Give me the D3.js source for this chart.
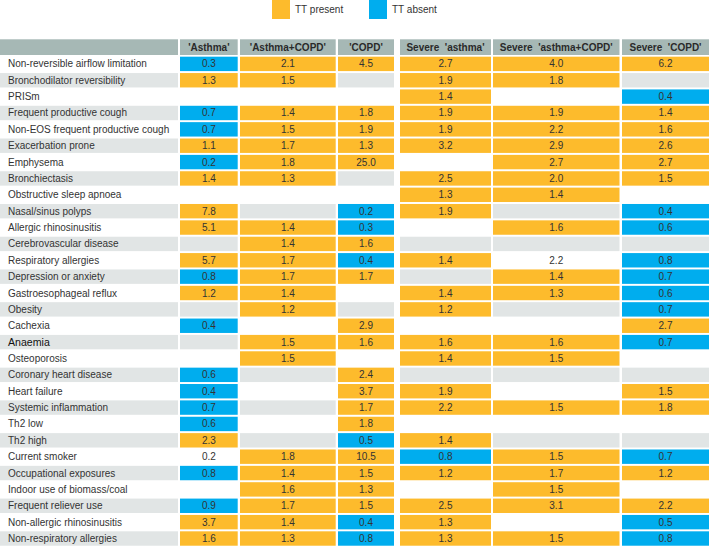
<!DOCTYPE html>
<html>
<head>
<meta charset="utf-8">
<script src="https://cdn.jsdelivr.net/npm/d3@7"></script>
<style>
  html, body { margin: 0; padding: 0; background: #fff; }
  svg { display: block; }
  text { font-family: "Liberation Sans", Arial, Helvetica, sans-serif; }
</style>
</head>
<body>
<svg id="chart" width="709" height="550"></svg>
<script>
// ---------- DATA ----------
const columns = ["'Asthma'", "'Asthma+COPD'", "'COPD'", "Severe  'asthma'", "Severe  'asthma+COPD'", "Severe  'COPD'"];
const legendLabels = ["TT present", "TT absent"];
const rowLabels = [
  "Non-reversible airflow limitation", "Bronchodilator reversibility", "PRISm",
  "Frequent productive cough", "Non-EOS frequent productive cough", "Exacerbation prone",
  "Emphysema", "Bronchiectasis", "Obstructive sleep apnoea", "Nasal/sinus polyps",
  "Allergic rhinosinusitis", "Cerebrovascular disease", "Respiratory allergies",
  "Depression or anxiety", "Gastroesophageal reflux", "Obesity", "Cachexia", "Anaemia",
  "Osteoporosis", "Coronary heart disease", "Heart failure", "Systemic inflammation",
  "Th2 low", "Th2 high", "Current smoker", "Occupational exposures",
  "Indoor use of biomass/coal", "Frequent reliever use", "Non-allergic rhinosinusitis",
  "Non-respiratory allergies"
];
// values per row (null = no value), one entry per column
const values = [
  [0.3, 2.1, 4.5, 2.7, 4.0, 6.2],
  [1.3, 1.5, null, 1.9, 1.8, null],
  [null, null, null, 1.4, null, 0.4],
  [0.7, 1.4, 1.8, 1.9, 1.9, 1.4],
  [0.7, 1.5, 1.9, 1.9, 2.2, 1.6],
  [1.1, 1.7, 1.3, 3.2, 2.9, 2.6],
  [0.2, 1.8, 25.0, null, 2.7, 2.7],
  [1.4, 1.3, null, 2.5, 2.0, 1.5],
  [null, null, null, 1.3, 1.4, null],
  [7.8, null, 0.2, 1.9, null, 0.4],
  [5.1, 1.4, 0.3, null, 1.6, 0.6],
  [null, 1.4, 1.6, null, null, null],
  [5.7, 1.7, 0.4, 1.4, 2.2, 0.8],
  [0.8, 1.7, 1.7, null, 1.4, 0.7],
  [1.2, 1.4, null, 1.4, 1.3, 0.6],
  [null, 1.2, null, 1.2, null, 0.7],
  [0.4, null, 2.9, null, null, 2.7],
  [null, 1.5, 1.6, 1.6, 1.6, 0.7],
  [null, 1.5, null, 1.4, 1.5, null],
  [0.6, null, 2.4, null, null, null],
  [0.4, null, 3.7, 1.9, null, 1.5],
  [0.7, null, 1.7, 2.2, 1.5, 1.8],
  [0.6, null, 1.8, null, null, null],
  [2.3, null, 0.5, 1.4, null, null],
  [0.2, 1.8, 10.5, 0.8, 1.5, 0.7],
  [0.8, 1.4, 1.5, 1.2, 1.7, 1.2],
  [null, 1.6, 1.3, null, 1.5, null],
  [0.9, 1.7, 1.5, 2.5, 3.1, 2.2],
  [3.7, 1.4, 0.4, 1.3, null, 0.5],
  [1.6, 1.3, 0.8, 1.3, 1.5, 0.8]
];
// status per cell: "p" = TT present, "a" = TT absent, "n" = not significant, "" = empty
const status = [
  ["a","p","p","p","p","p"],
  ["p","p","","p","p",""],
  ["","","","p","","a"],
  ["a","p","p","p","p","p"],
  ["a","p","p","p","p","p"],
  ["p","p","p","p","p","p"],
  ["a","p","p","","p","p"],
  ["p","p","","p","p","p"],
  ["","","","p","p",""],
  ["p","","a","p","","a"],
  ["p","p","a","","p","a"],
  ["","p","p","","",""],
  ["p","p","a","p","n","a"],
  ["a","p","p","","p","a"],
  ["p","p","","p","p","a"],
  ["","p","","p","","a"],
  ["a","","p","","","p"],
  ["","p","p","p","p","a"],
  ["","p","","p","p",""],
  ["a","","p","","",""],
  ["a","","p","p","","p"],
  ["a","","p","p","p","p"],
  ["a","","p","","",""],
  ["p","","a","p","",""],
  ["n","p","p","a","p","a"],
  ["a","p","p","p","p","p"],
  ["","p","p","","p",""],
  ["a","p","p","p","p","p"],
  ["p","p","a","p","","a"],
  ["p","p","a","p","p","a"]
];

// ---------- STYLE / LAYOUT ----------
const W = 709, H = 550;
const C_PRESENT = "#fdbb2c", C_ABSENT = "#00adee", C_STRIPE = "#e1e5e5", C_HEAD = "#a6b8b5";
const TEXT = "#333";
const colEdges = [[180, 237.7], [240, 335.7], [338, 394], [400, 491], [493, 619.5], [622, 709]];
const labelColW = 178;

const svg = d3.select("#chart");
const colorScale = d3.scaleOrdinal().domain(["p", "a"]).range([C_PRESENT, C_ABSENT]);
const xLeft = d3.scaleOrdinal().domain(columns).range(colEdges.map(e => e[0]));
const xRight = d3.scaleOrdinal().domain(columns).range(colEdges.map(e => e[1]));
const y = d3.scaleBand().domain(rowLabels).range([55.7, 546.7]).paddingInner(0.12).paddingOuter(0.06);

// legend
const legendX = d3.scaleOrdinal().domain(legendLabels).range([272, 369]);
const lg = svg.append("g").selectAll("g").data(legendLabels).join("g")
  .attr("transform", d => `translate(${legendX(d)},0)`);
lg.append("rect").attr("x", 0).attr("y", 0).attr("width", 18).attr("height", 19)
  .attr("fill", (d, i) => i === 0 ? C_PRESENT : C_ABSENT);
lg.append("text").attr("x", 23).attr("y", 9).attr("dy", "0.35em")
  .attr("font-size", 10).attr("fill", TEXT).text(d => d);

// header
const headY = 39.3, headH = 15.7;
svg.append("rect").attr("x", 0).attr("y", headY).attr("width", labelColW).attr("height", headH).attr("fill", C_HEAD);
const hg = svg.append("g").selectAll("g").data(columns).join("g");
hg.append("rect")
  .attr("x", d => xLeft(d)).attr("y", headY)
  .attr("width", d => xRight(d) - xLeft(d)).attr("height", headH)
  .attr("fill", C_HEAD);
hg.append("text")
  .attr("x", d => (xLeft(d) + xRight(d)) / 2).attr("y", headY + headH / 2).attr("dy", "0.35em")
  .attr("text-anchor", "middle").attr("font-size", 10).attr("font-weight", "bold")
  .attr("fill", "#2a2a2a")
  .style("white-space", "pre")
  .text(d => d);

// rows
const rows = svg.append("g").selectAll("g").data(rowLabels).join("g")
  .attr("transform", d => `translate(0,${y(d)})`);
rows.filter((d, i) => i % 2 === 1).append("rect")
  .attr("x", 0).attr("y", 0).attr("width", labelColW).attr("height", y.bandwidth()).attr("fill", C_STRIPE);
rows.append("text")
  .attr("x", 8).attr("y", y.bandwidth() / 2).attr("dy", "0.35em")
  .attr("font-size", d => d === "Anaemia" ? 10.6 : 10)
  .attr("fill", d => d === "Anaemia" ? "#111" : TEXT)
  .text(d => d);

rows.each(function (rowLabel, ri) {
  const g = d3.select(this);
  const cells = columns.map((c, ci) => ({ col: c, v: values[ri][ci], s: status[ri][ci], even: ri % 2 === 1 }));
  g.selectAll("rect.cell").data(cells).join("rect")
    .attr("class", "cell")
    .attr("x", d => xLeft(d.col)).attr("y", 0)
    .attr("width", d => xRight(d.col) - xLeft(d.col)).attr("height", y.bandwidth())
    .attr("fill", d => d.s === "p" || d.s === "a" ? colorScale(d.s) : (d.even ? C_STRIPE : "none"));
  g.selectAll("text.val").data(cells.filter(d => d.v !== null)).join("text")
    .attr("class", "val")
    .attr("x", d => (xLeft(d.col) + xRight(d.col)) / 2).attr("y", y.bandwidth() / 2).attr("dy", "0.35em")
    .attr("text-anchor", "middle").attr("font-size", 10).attr("fill", TEXT)
    .text(d => d3.format(".1f")(d.v));
});
</script>
</body>
</html>
